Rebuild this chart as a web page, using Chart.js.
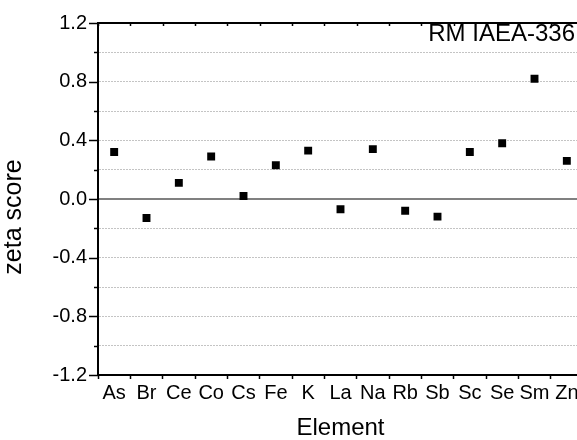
<!DOCTYPE html>
<html>
<head>
<meta charset="utf-8">
<script src="https://cdn.jsdelivr.net/npm/chart.js@4.4.1/dist/chart.umd.min.js"></script>
<style>
  html, body { margin: 0; padding: 0; background: #fff; overflow: hidden; }
  #wrap { width: 577px; height: 440px; overflow: hidden; }
</style>
</head>
<body>
<div id="wrap"><canvas id="zetaChart" width="590" height="440"></canvas></div>
<script>
const elements = ['As', 'Br', 'Ce', 'Co', 'Cs', 'Fe', 'K', 'La', 'Na', 'Rb', 'Sb', 'Sc', 'Se', 'Sm', 'Zn'];
const zetaScores = [0.32, -0.13, 0.11, 0.29, 0.02, 0.23, 0.33, -0.07, 0.34, -0.08, -0.12, 0.32, 0.38, 0.82, 0.26];
const yTickValues = [-1.2, -0.8, -0.4, 0.0, 0.4, 0.8, 1.2];
const sampleName = 'RM IAEA-336';

Chart.defaults.font.family = "'Liberation Sans', Arial, sans-serif";
Chart.defaults.color = '#000';

// axis ticks (major outward, minor shorter), top frame line, labels
const framePlugin = {
    id: 'frame',
    afterDraw(chart) {
        const ctx = chart.ctx;
        const area = chart.chartArea;
        const y = chart.scales.y;
        const x = chart.scales.x;
        ctx.save();
        ctx.strokeStyle = '#000';
        ctx.lineWidth = 1.5;
        // y ticks
        for (let i = -6; i <= 6; i++) {
            const v = i / 5;
            const py = Math.round(y.getPixelForValue(v)) + 0.5;
            const len = (i % 2 === 0) ? 9 : 4;
            ctx.beginPath();
            ctx.moveTo(area.left - len, py);
            ctx.lineTo(area.left, py);
            ctx.stroke();
        }
        // top line
        ctx.lineWidth = 2;
        ctx.beginPath();
        ctx.moveTo(area.left, area.top);
        ctx.lineTo(area.right, area.top);
        ctx.stroke();
        // top inward ticks at category boundaries
        ctx.lineWidth = 1.5;
        const step = x.width / elements.length;
        for (let i = 0; i <= elements.length; i++) {
            const px = Math.round(area.left + i * step) + 0.5;
            ctx.beginPath();
            ctx.moveTo(px, area.top);
            ctx.lineTo(px, area.top + 3);
            ctx.stroke();
        }
        // sample label
        ctx.fillStyle = '#000';
        ctx.font = "24px 'Liberation Sans', Arial, sans-serif";
        ctx.textAlign = 'right';
        ctx.textBaseline = 'alphabetic';
        ctx.fillText(sampleName, 575, 41);
        // y axis title
        ctx.translate(14, 217);
        ctx.rotate(-Math.PI / 2);
        ctx.textAlign = 'center';
        ctx.textBaseline = 'middle';
        ctx.font = "25px 'Liberation Sans', Arial, sans-serif";
        ctx.fillText('zeta score', 0, 0);
        ctx.restore();
    }
};

new Chart(document.getElementById('zetaChart'), {
    type: 'line',
    data: {
        labels: elements,
        datasets: [{
            label: 'zeta score',
            data: zetaScores,
            showLine: false,
            pointStyle: 'rect',
            pointRadius: 5.6,
            pointBorderWidth: 0,
            pointBackgroundColor: '#000',
            pointBorderColor: '#000'
        }]
    },
    options: {
        responsive: false,
        animation: false,
        layout: { padding: { top: 19, right: 7, left: 0, bottom: 0 } },
        plugins: {
            legend: { display: false },
            tooltip: { enabled: false }
        },
        scales: {
            x: {
                type: 'category',
                offset: true,
                afterFit: scale => { scale.height = 65; },
                grid: {
                    offset: true,
                    drawOnChartArea: false,
                    drawTicks: true,
                    tickLength: 4,
                    tickColor: '#000',
                    tickWidth: 1.5
                },
                border: { display: true, color: '#000', width: 2 },
                ticks: {
                    autoSkip: false,
                    maxRotation: 0,
                    minRotation: 0,
                    padding: 2,
                    font: { size: 20 }
                },
                title: {
                    display: true,
                    text: 'Element',
                    font: { size: 24, lineHeight: 1 },
                    padding: { top: 0, bottom: 0 }
                }
            },
            y: {
                min: -1.2,
                max: 1.2,
                afterFit: scale => { scale.width = 98; },
                afterBuildTicks: scale => {
                    const t = [];
                    for (let i = -6; i <= 6; i++) t.push({ value: i / 5 });
                    scale.ticks = t;
                },
                grid: {
                    drawTicks: false,
                    color: ctx => {
                        const v = Math.round(ctx.tick.value * 10);
                        if (v === 0) return '#808080';
                        if (Math.abs(v) === 12) return 'rgba(0,0,0,0)';
                        return '#c4c4c4';
                    },
                    lineWidth: ctx => Math.round(ctx.tick.value * 10) === 0 ? 2 : 1
                },
                border: {
                    display: true,
                    color: '#000',
                    width: 2,
                    dash: ctx => (ctx.tick && Math.round(ctx.tick.value * 10) !== 0) ? [2, 1] : []
                },
                ticks: {
                    autoSkip: false,
                    padding: 11,
                    font: { size: 20 },
                    callback: v => {
                        const r = Math.round(v * 10);
                        return yTickValues.some(t => Math.round(t * 10) === r) ? (r / 10).toFixed(1) : '';
                    }
                }
            }
        }
    },
    plugins: [framePlugin]
});
</script>
</body>
</html>
